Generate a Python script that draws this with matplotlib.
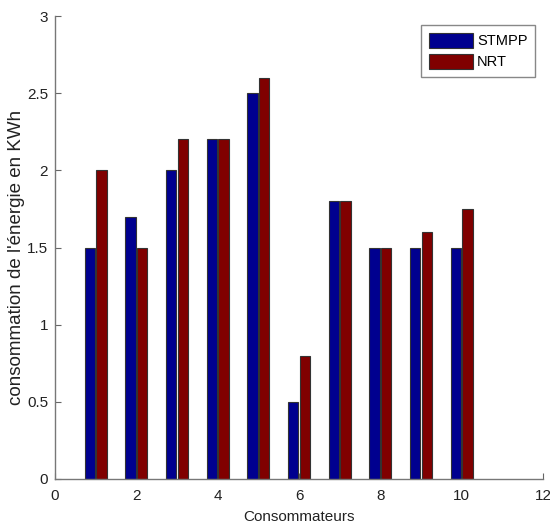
import matplotlib
matplotlib.use("Agg")
import matplotlib.pyplot as plt
import numpy as np

consumers = [1, 2, 3, 4, 5, 6, 7, 8, 9, 10]
stmpp = [1.5, 1.7, 2.0, 2.2, 2.5, 0.5, 1.8, 1.5, 1.5, 1.5]
nrt = [2.0, 1.5, 2.2, 2.2, 2.6, 0.8, 1.8, 1.5, 1.6, 1.75]
series_names = ["STMPP", "NRT"]
xticks = [0, 2, 4, 6, 8, 10, 12]
yticks = [0, 0.5, 1, 1.5, 2, 2.5, 3]
ytick_labels = ["0", "0.5", "1", "1.5", "2", "2.5", "3"]

plt.rcParams['font.family'] = ['Liberation Sans', 'DejaVu Sans']

fig = plt.figure(figsize=(5.5, 5.29), dpi=100)
L, R, T, B = 55, 543, 16, 479
ax = fig.add_axes([L/550, 1-B/529, (R-L)/550, (B-T)/529])

x = np.array(consumers, dtype=float)
w = 0.25
off = 0.145
ax.bar(x - off, stmpp, width=w, color='#00008F', edgecolor='#333333', linewidth=0.8, label=series_names[0], zorder=2)
ax.bar(x + off, nrt, width=w, color='#800000', edgecolor='#333333', linewidth=0.8, label=series_names[1], zorder=2)

ax.set_xlim(0, 12)
ax.set_ylim(0, 3)
ax.set_xticks(xticks)
ax.set_xticklabels([str(t) for t in xticks])
ax.set_yticks(yticks)
ax.set_yticklabels(ytick_labels)
ax.tick_params(direction='in', length=4, color='#666666', labelsize=11, labelcolor='#222222')
ax.tick_params(axis='x', pad=7)
ax.tick_params(axis='y', pad=5)
for s in ['top', 'right']:
    ax.spines[s].set_visible(False)
for s in ['left', 'bottom']:
    ax.spines[s].set_color('#777777')
    ax.spines[s].set_linewidth(1.0)

ax.set_xlabel("Consommateurs", fontsize=11, color='#222222', labelpad=5)
ax.set_ylabel("consommation de l'énergie en KWh", fontsize=13.5, color='#222222', labelpad=4)
ax.yaxis.set_label_coords(-0.062, (B-257)/(B-T))

leg = ax.legend(loc='upper right', bbox_to_anchor=(0.983, 0.98), fontsize=10.5,
                handlelength=3.0, handleheight=1.3, handletextpad=0.3,
                labelspacing=0.35, borderpad=0.5, fancybox=False, framealpha=1,
                borderaxespad=0)
leg.get_frame().set_edgecolor('#888888')
leg.get_frame().set_linewidth(1.0)

fig.savefig("out.png", dpi=100)
